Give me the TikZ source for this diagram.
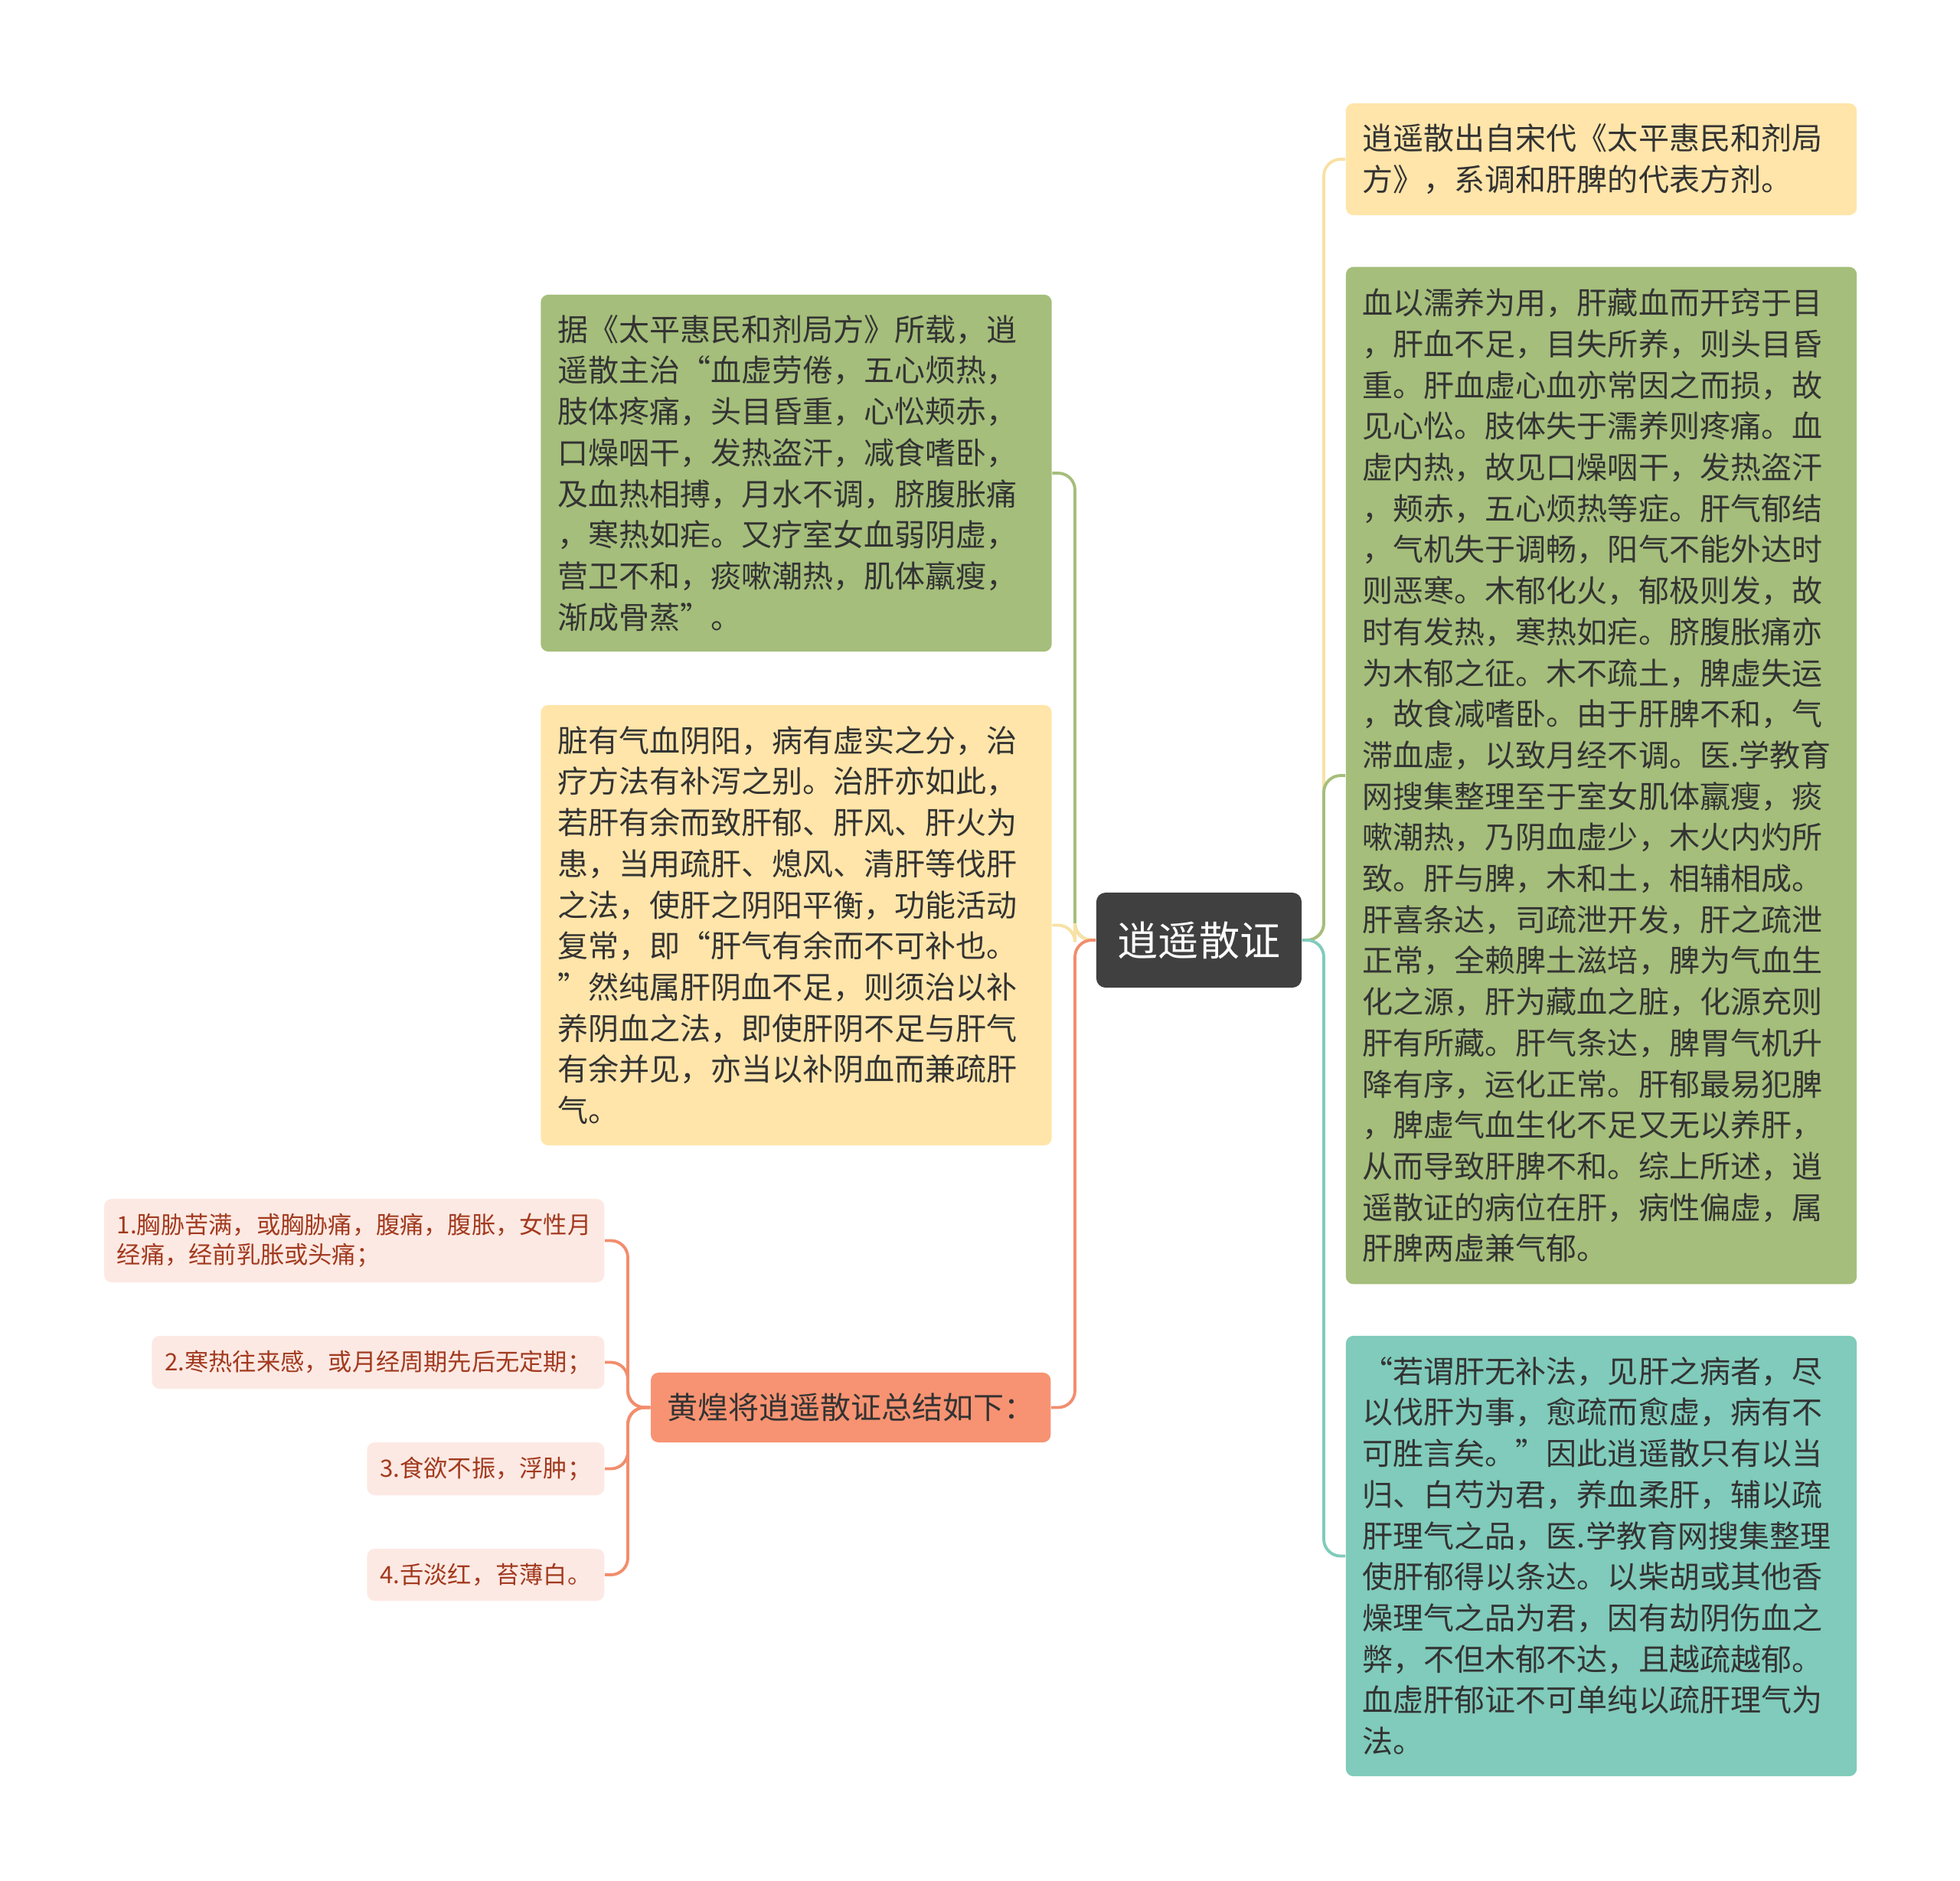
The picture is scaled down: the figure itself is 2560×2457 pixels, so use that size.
\documentclass[tikz,border=0pt]{standalone}
\usepackage{fontspec}
\setmainfont{Noto Sans CJK SC}
\usetikzlibrary{positioning}

\definecolor{rootgray}{HTML}{404040}
\definecolor{boxgreen}{HTML}{A5BE7B}
\definecolor{boxyellow}{HTML}{FFE5A9}
\definecolor{boxteal}{HTML}{80CBBB}
\definecolor{boxorange}{HTML}{F79372}
\definecolor{boxpink}{HTML}{FDE9E3}
\definecolor{textdark}{HTML}{333333}
\definecolor{textred}{HTML}{A23A1F}
\definecolor{lineyellow}{HTML}{F8E1A4}
\definecolor{lineorange}{HTML}{F28D6D}

\tikzset{
  box/.style={rounded corners=0.1cm, inner xsep=0.22cm, inner ysep=0pt, align=left, text=textdark,
    font=\fontsize{11.38pt}{15.27pt}\selectfont},
  bigbox/.style={box, text width=6.23cm},
  subbox/.style={rounded corners=0.1cm, fill=boxpink, text=textred, inner xsep=0.17cm, inner ysep=0pt,
    align=left, anchor=east, font=\fontsize{8.88pt}{11.1pt}\selectfont},
  link/.style={line width=1.1pt, rounded corners=0.22cm}
}

\begin{document}
\begin{tikzpicture}[x=0.01cm, y=-0.01cm]
        \fill[white] (0,0) rectangle (2560,2457);
        \useasboundingbox (0,0) rectangle (2560,2457);

        \node[rounded corners=0.12cm, fill=rootgray, text=white, minimum width=2.68cm, minimum height=1.24cm, inner sep=0pt, font=\fontsize{15.1pt}{18pt}\selectfont] (node0) at (1566,1228) {逍遥散证};

        \node[bigbox, fill=boxyellow, minimum height=1.46cm] (node1) at (2091.5,208) {逍遥散出自宋代《太平惠民和剂局\\方》，系调和肝脾的代表方剂。};
        \node[bigbox, fill=boxgreen, minimum height=13.28cm] (node2) at (2091.5,1013) {血以濡养为用，肝藏血而开窍于目\\，肝血不足，目失所养，则头目昏\\重。肝血虚心血亦常因之而损，故\\见心忪。肢体失于濡养则疼痛。血\\虚内热，故见口燥咽干，发热盗汗\\，颊赤，五心烦热等症。肝气郁结\\，气机失于调畅，阳气不能外达时\\则恶寒。木郁化火，郁极则发，故\\时有发热，寒热如疟。脐腹胀痛亦\\为木郁之征。木不疏土，脾虚失运\\，故食减嗜卧。由于肝脾不和，气\\滞血虚，以致月经不调。医.学教育\\网搜集整理至于室女肌体羸瘦，痰\\嗽潮热，乃阴血虚少，木火内灼所\\致。肝与脾，木和土，相辅相成。\\肝喜条达，司疏泄开发，肝之疏泄\\正常，全赖脾土滋培，脾为气血生\\化之源，肝为藏血之脏，化源充则\\肝有所藏。肝气条达，脾胃气机升\\降有序，运化正常。肝郁最易犯脾\\，脾虚气血生化不足又无以养肝，\\从而导致肝脾不和。综上所述，逍\\遥散证的病位在肝，病性偏虚，属\\肝脾两虚兼气郁。};
        \node[bigbox, fill=boxteal, minimum height=5.75cm] (node3) at (2091.5,2032.5) {“若谓肝无补法，见肝之病者，尽\\以伐肝为事，愈疏而愈虚，病有不\\可胜言矣。”因此逍遥散只有以当\\归、白芍为君，养血柔肝，辅以疏\\肝理气之品，医.学教育网搜集整理\\使肝郁得以条达。以柴胡或其他香\\燥理气之品为君，因有劫阴伤血之\\弊，不但木郁不达，且越疏越郁。\\血虚肝郁证不可单纯以疏肝理气为\\法。};

        \node[bigbox, fill=boxgreen, minimum height=4.66cm] (node4) at (1040,618) {据《太平惠民和剂局方》所载，逍\\遥散主治“血虚劳倦，五心烦热，\\肢体疼痛，头目昏重，心忪颊赤，\\口燥咽干，发热盗汗，减食嗜卧，\\及血热相搏，月水不调，脐腹胀痛\\，寒热如疟。又疗室女血弱阴虚，\\营卫不和，痰嗽潮热，肌体羸瘦，\\渐成骨蒸”。};
        \node[bigbox, fill=boxyellow, minimum height=5.75cm] (node5) at (1040,1208.5) {脏有气血阴阳，病有虚实之分，治\\疗方法有补泻之别。治肝亦如此，\\若肝有余而致肝郁、肝风、肝火为\\患，当用疏肝、熄风、清肝等伐肝\\之法，使肝之阴阳平衡，功能活动\\复常，即“肝气有余而不可补也。\\”然纯属肝阴血不足，则须治以补\\养阴血之法，即使肝阴不足与肝气\\有余并见，亦当以补阴血而兼疏肝\\气。};
        \node[box, fill=boxorange, inner xsep=0.21cm, minimum height=0.91cm, anchor=east] (node6) at (1373,1838.5) {黄煌将逍遥散证总结如下：};

        \node[subbox, minimum height=1.09cm] (node7) at (790,1620.5) {1.胸胁苦满，或胸胁痛，腹痛，腹胀，女性月\\经痛，经前乳胀或头痛；};
        \node[subbox, minimum height=0.69cm] (node8) at (790,1779.5) {2.寒热往来感，或月经周期先后无定期；};
        \node[subbox, minimum height=0.69cm] (node9) at (790,1918.5) {3.食欲不振，浮肿；};
        \node[subbox, minimum height=0.68cm] (node10) at (790,2057) {4.舌淡红，苔薄白。};

        \coordinate (rjoin) at (1729,1228);
        \coordinate (ljoin) at (1404,1228);
        \coordinate (sjoin) at (820,1838.5);

        \draw[link, lineyellow] (node0.east) -- (rjoin) |- (node1.west);
        \draw[link, boxgreen] (node0.east) -- (rjoin) |- (node2.west);
        \draw[link, boxteal] (node0.east) -- (rjoin) |- (node3.west);
        \draw[link, boxgreen] (node0.west) -- (ljoin) |- (node4.east);
        \draw[link, lineyellow] (node0.west) -- (ljoin) |- (node5.east);
        \draw[link, lineorange] (node0.west) -- (ljoin) |- (node6.east);
        \draw[link, lineorange] (node6.west) -- (sjoin) |- (node7.east);
        \draw[link, lineorange] (node6.west) -- (sjoin) |- (node8.east);
        \draw[link, lineorange] (node6.west) -- (sjoin) |- (node9.east);
        \draw[link, lineorange] (node6.west) -- (sjoin) |- (node10.east);
\end{tikzpicture}
\end{document}
